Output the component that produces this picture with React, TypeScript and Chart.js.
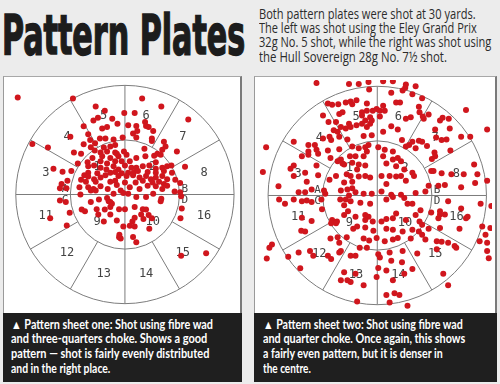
import React, { useEffect, useLayoutEffect, useRef, useState } from 'react';
import { Chart, registerables } from 'chart.js';

Chart.register(...registerables);

// ---- plate geometry (plate units; outer circle radius = 336) ----
const OUTER_R = 336;
const INNER_R = 168;
// ring sectors, counter-clockwise from east, 30° each
const RING_LABELS = ['8', '7', '6', '5', '4', '3', '11', '12', '13', '14', '15', '16'];
// inner quadrants counter-clockwise from east
const INNER_LABELS = ['2', '1', '9', '10'];
// edge marks next to the inner circle on the horizontal line
const EDGE_LABELS = ['B', 'A', 'C', 'D'];

// ---- shot positions read from the two plates ----
const LEFT_SHOTS: [number, number][] = [
  [-330, 297], [-160, 294], [53, 294],
  [-90, 270], [112, 270], [-62, 257], [-2, 250], [30, 250],
  [-97, 227], [-83, 235], [-39, 232], [195, 230], [62, 222], [-23, 217],
  [-127, 209], [-70, 202], [-55, 207], [10, 212], [35, 210], [65, 210], [73, 207], [87, 195], [38, 195], [25, 187], [-113, 185],
  [-168, 177], [-77, 172], [-60, 172], [-35, 169], [-7, 175], [35, 175], [83, 172], [-107, 167], [120, 162], [83, 164], [-92, 157], [-65, 144],
  [-127, 154], [-285, 155], [-237, 144], [-105, 145], [-45, 147], [-30, 152], [125, 147], [-157, 129], [-135, 125], [-93, 135], [-75, 129], [-55, 132], [-30, 129], [-25, 125], [-3, 132], [60, 140], [115, 137], [100, 125], [160, 132],
  [-100, 112], [-70, 117], [-45, 112], [-20, 117], [5, 122], [35, 112], [63, 117], [90, 119], [110, 122], [-75, 102], [-115, 99], [-55, 95], [-30, 102], [-10, 102], [15, 102], [95, 99], [-145, 95],
  [-220, 79], [-165, 72], [-192, 70], [-113, 87], [-95, 89], [-75, 82], [-57, 77], [-35, 87], [-20, 77], [0, 89], [20, 82], [35, 82], [55, 87], [75, 89], [95, 79], [115, 82], [130, 87], [143, 89], [185, 85], [-113, 67], [-85, 65], [-45, 67], [-30, 69], [-10, 65], [10, 67], [27, 67], [40, 72], [70, 69], [95, 67], [120, 72], [145, 67],
  [-177, 42], [-125, 59], [-113, 55], [-135, 45], [-95, 47], [-75, 52], [-60, 59], [-20, 57], [5, 57], [25, 59], [45, 52], [65, 57], [80, 47], [95, 52], [115, 57], [130, 47], [155, 45], [170, 35], [-195, 32], [-120, 39], [-90, 39], [-45, 39], [-30, 42], [0, 37], [33, 37], [55, 42], [85, 37], [105, 39], [120, 32], [130, 27],
  [-200, 19], [-180, 19], [-140, 22], [-113, 22], [-97, 17], [-75, 25], [-53, 17], [-25, 29], [-13, 12], [15, 22], [45, 17], [70, 27], [95, 25], [115, 17], [153, 9], [170, 7], [-105, 12], [-90, 12],
  [-200, -18], [-182, -23], [-137, 0], [-105, -23], [-80, -15], [-55, -11], [-50, -21], [-35, 2], [-5, 5], [10, 2], [35, -8], [65, -8], [87, 2], [112, -13], [110, -21], [173, -5],
  [-170, -56], [-133, -46], [-123, -51], [-87, -45], [-62, -46], [-45, -23], [-40, -28], [-45, -38], [-18, -45], [0, -45], [30, -38], [55, -45], [65, -46], [175, -43],
  [-230, -73], [-82, -61], [-45, -61], [30, -71], [50, -61], [57, -75], [73, -63], [83, -73], [23, -83], [-25, -80], [171, -73],
  [-179, -95], [15, -96], [30, -98], [75, -105], [-5, -98], [-65, -83],
  [-17, -123], [-13, -135], [-18, -131], [25, -130], [35, -146],
  [173, -188], [250, -180],
];

const RIGHT_SHOTS: [number, number][] = [
  [-187, 345], [-87, 342], [-57, 342], [-27, 348], [18, 350], [48, 350], [88, 340], [118, 335], [-25, 325],
  [43, 315], [78, 322], [86, 330], [138, 298], [108, 310], [-32, 282], [-152, 282], [-139, 278], [-120, 280], [-97, 285], [-82, 288], [-64, 292], [-77, 280], [58, 285], [70, 285], [18, 275], [-2, 265],
  [273, 262], [158, 248], [128, 272], [130, 255], [-167, 245], [-117, 250], [-107, 255], [-47, 255], [-32, 260], [-14, 260], [8, 260], [23, 260], [-47, 245], [-22, 240], [8, 242], [88, 235], [103, 240], [143, 235], [140, 242],
  [-150, 225], [-127, 225], [-87, 220], [-64, 215], [-47, 220], [-37, 230], [-32, 210], [-17, 230], [-22, 220], [43, 212], [63, 202], [201, 238], [193, 230], [220, 235], [338, 202], [178, 202], [223, 205], [-134, 200], [-97, 205], [-82, 210], [-112, 210],
  [-167, 175], [-147, 180], [-142, 170], [-122, 195], [-117, 180], [-92, 172], [-42, 182], [-17, 185], [18, 195], [76, 170], [128, 168], [108, 165], [138, 165], [153, 152], [181, 178], [198, 170], [213, 172], [258, 180], [286, 180], [-257, 165], [-212, 155],
  [-342, 148], [-192, 155], [-187, 140], [-152, 138], [-117, 142], [-77, 150], [-57, 145], [-37, 148], [-27, 155], [3, 148], [23, 140], [48, 135], [88, 150], [98, 155], [118, 145], [176, 132], [178, 120], [225, 138], [-212, 135], [-212, 125], [-232, 120], [-182, 128], [-144, 115], [-112, 110], [-107, 98], [-84, 120], [-67, 120], [-42, 120], [-32, 135],
  [168, 112], [-257, 92], [-267, 82], [-187, 92], [-222, 70], [-122, 105], [-102, 95], [-77, 100], [-57, 95], [-37, 92], [-62, 80], [18, 120], [28, 98], [48, 110], [63, 115], [73, 105], [58, 90], [83, 80], [108, 70], [113, 60], [166, 75], [173, 75], [198, 68], [228, 65], [298, 95], [308, 65], [-352, 72], [338, 45], [266, 65],
  [-304, 28], [-257, 60], [-217, 42], [-182, 62], [-147, 48], [-127, 60], [-94, 65], [-82, 60], [-57, 58], [-37, 60], [-22, 55], [13, 60], [38, 60], [28, 35], [58, 58], [73, 60], [88, 45], [158, 30], [188, 30], [208, 32], [258, 25], [301, 38], [-102, 40], [-77, 42],
  [-242, 10], [-222, 10], [-202, 18], [-164, 15], [-160, 5], [-112, 15], [-92, 18], [-77, 22], [-67, 10], [-87, 0], [-42, 5], [-17, 5], [13, 12], [43, 2], [73, 2], [83, -8], [118, 8], [148, 12],
  [-302, -12], [-284, -25], [-257, -12], [-232, -18], [-217, -15], [-202, -20], [-172, -12], [-170, -42], [-114, -12], [-97, -12], [-82, -18], [-102, -30], [-52, -22], [-22, -25], [28, -12], [48, -5], [93, -25], [108, -25], [133, -45], [166, -52], [193, -48], [218, -18], [258, -40], [318, -25], [351, -32],
  [-232, -68], [-202, -78], [-139, -75], [-124, -80], [-102, -60], [-90, -48], [-67, -65], [-37, -60], [-27, -65], [-37, -75], [-14, -80], [13, -80], [28, -72], [48, -70], [58, -55], [88, -75], [118, -60], [130, -80], [138, -90], [188, -70], [193, -58], [208, -58], [273, -70], [278, -65],
  [-234, -108], [-222, -110], [-142, -85], [-127, -85], [-74, -102], [-62, -95], [-37, -98], [-12, -108], [28, -102], [48, -105], [78, -110], [108, -105], [128, -110], [138, -120], [158, -102], [193, -100], [253, -102], [323, -95], [333, -120], [348, -100], [315, -140],
  [-324, -150], [-332, -160], [-144, -132], [-122, -128], [-94, -128], [-42, -132], [-25, -138], [-2, -130], [23, -140], [48, -135], [63, -130], [103, -132], [148, -135], [183, -140], [198, -142], [218, -145], [238, -155], [243, -160], [338, -145], [-32, -160], [-54, -160], [-117, -145],
  [-274, -188], [-340, -193], [-242, -175], [-207, -170], [-197, -185], [-152, -185], [-142, -195], [-117, -175], [-112, -170], [-82, -185], [-67, -185], [3, -180], [8, -190], [38, -175], [78, -170], [123, -178], [183, -165], [338, -170], [343, -192],
  [-237, -223], [-102, -235], [-92, -260], [-82, -265], [-67, -240], [-42, -275], [-2, -250], [28, -230], [48, -260], [76, -205], [83, -240], [108, -225], [203, -240], [218, -275], [3, -222], [43, -200],
  [-62, -325], [28, -305], [38, -328], [53, -300], [68, -305], [93, -338], [-112, -260],
];

// ---- text ----
const TITLE = 'Pattern Plates';
const INTRO_LINES = [
  'Both pattern plates were shot at 30 yards.',
  'The left was shot using the Eley Grand Prix',
  '32g No. 5 shot, while the right was shot using',
  'the Hull Sovereign 28g No. 7\u00BD shot.',
];
const INTRO_WIDTHS = [217, 218, 232, 188];
const LEFT_CAPTION = [
  '\u25B2 Pattern sheet one: Shot using fibre wad',
  'and three-quarters choke. Shows a good',
  'pattern \u2014 shot is fairly evenly distributed',
  'and in the right place.',
];
const LEFT_CAPTION_WIDTHS = [202, 196, 198, 99];
const RIGHT_CAPTION = [
  '\u25B2 Pattern sheet two: Shot using fibre wad',
  'and quarter choke. Once again, this shows',
  'a fairly even pattern, but it is denser in',
  'the centre.',
];
const RIGHT_CAPTION_WIDTHS = [200, 202, 180, 48];

const DOT_COLOR = '#d0161d';
const LINE_COLOR = '#7c7c7c';
const LABEL_COLOR = '#444444';

const plateOverlay = {
  id: 'plateOverlay',
  beforeDatasetsDraw(chart: any) {
    const { ctx } = chart;
    const xs = chart.scales.x;
    const ys = chart.scales.y;
    const cx = xs.getPixelForValue(0);
    const cy = ys.getPixelForValue(0);
    const ro = xs.getPixelForValue(OUTER_R) - cx;
    const ri = xs.getPixelForValue(INNER_R) - cx;
    const k = (xs.getPixelForValue(100) - cx) / 100;
    ctx.save();
    ctx.strokeStyle = LINE_COLOR;
    ctx.lineWidth = 1;
    ctx.beginPath();
    ctx.arc(cx, cy, ro, 0, Math.PI * 2);
    ctx.stroke();
    ctx.beginPath();
    ctx.arc(cx, cy, ri, 0, Math.PI * 2);
    ctx.stroke();
    for (let i = 0; i < 12; i++) {
      const a = (i * Math.PI) / 6;
      const r0 = i % 3 === 0 ? 0 : ri;
      ctx.beginPath();
      ctx.moveTo(cx + r0 * Math.cos(a), cy - r0 * Math.sin(a));
      ctx.lineTo(cx + ro * Math.cos(a), cy - ro * Math.sin(a));
      ctx.stroke();
    }
    ctx.fillStyle = LABEL_COLOR;
    ctx.textAlign = 'center';
    ctx.textBaseline = 'middle';
    ctx.font = '12px "DejaVu Sans Mono", monospace';
    const rr = (INNER_R + OUTER_R) / 2 * k;
    RING_LABELS.forEach((t, i) => {
      const a = ((i + 0.5) * Math.PI) / 6;
      ctx.fillText(t, cx + rr * Math.cos(a), cy - rr * Math.sin(a));
    });
    const rq = 0.72 * INNER_R * k;
    INNER_LABELS.forEach((t, i) => {
      const a = ((i + 0.5) * Math.PI) / 2;
      ctx.fillText(t, cx + rq * Math.cos(a), cy - rq * Math.sin(a));
    });
    ctx.font = '11px "DejaVu Sans Mono", monospace';
    const re = 1.1 * INNER_R * k;
    const edgeAngles = [5, 175, 185, 355];
    EDGE_LABELS.forEach((t, i) => {
      const a = (edgeAngles[i] * Math.PI) / 180;
      ctx.fillText(t, cx + re * Math.cos(a), cy - re * Math.sin(a));
    });
    ctx.restore();
  },
};

function Plate(props: {
  shots: [number, number][];
  xMin: number; xMax: number; yMin: number; yMax: number;
  width: number; height: number;
}) {
  const ref = useRef<HTMLCanvasElement>(null);
  useEffect(() => {
    if (!ref.current) return;
    const chart = new Chart(ref.current, {
      type: 'scatter',
      data: {
        datasets: [
          {
            data: props.shots.map(([x, y]) => ({ x, y })),
            backgroundColor: DOT_COLOR,
            borderWidth: 0,
            pointRadius: 3,
            pointHoverRadius: 3,
          },
        ],
      },
      options: {
        animation: false,
        responsive: false,
        events: [],
        layout: { padding: 0 },
        plugins: { legend: { display: false }, tooltip: { enabled: false } },
        scales: {
          x: { type: 'linear', min: props.xMin, max: props.xMax, display: false },
          y: { type: 'linear', min: props.yMin, max: props.yMax, display: false },
        },
      },
      plugins: [plateOverlay],
    } as any);
    return () => chart.destroy();
  }, []);
  return (
    <canvas
      ref={ref}
      width={props.width}
      height={props.height}
      style={{ display: 'block', width: props.width, height: props.height }}
    />
  );
}

function FitLine(props: { text: string; width: number; style: React.CSSProperties; top: number; left: number }) {
  const ref = useRef<HTMLSpanElement>(null);
  const [scale, setScale] = useState(1);
  useLayoutEffect(() => {
    const measure = () => {
      const el = ref.current;
      if (!el) return;
      const w = el.offsetWidth;
      if (w > 0) setScale(props.width / w);
    };
    measure();
    if ((document as any).fonts && (document as any).fonts.ready) {
      (document as any).fonts.ready.then(measure);
    }
  }, []);
  return (
    <span
      ref={ref}
      style={{
        position: 'absolute',
        left: props.left,
        top: props.top,
        whiteSpace: 'nowrap',
        display: 'inline-block',
        transformOrigin: '0 0',
        transform: `scaleX(${scale})`,
        ...props.style,
      }}
    >
      {props.text}
    </span>
  );
}

export default function App() {
  const introStyle: React.CSSProperties = {
    fontFamily: '"Open Sans", "Noto Sans", sans-serif',
    fontSize: 14,
    lineHeight: '14px',
    color: '#2b2b2b',
  };
  const capStyle: React.CSSProperties = {
    fontFamily: 'Lato, "Open Sans", sans-serif',
    fontWeight: 700,
    fontSize: 12.5,
    lineHeight: '14px',
    color: '#ffffff',
  };
  const introBaselines = [19.3, 33.5, 47.7, 61.8];
  const capBaselines = [329.3, 344, 358.7, 373.4];
  return (
    <div
      style={{
        position: 'fixed',
        left: 0,
        top: 0,
        width: 500,
        height: 384,
        background: '#ececec',
        overflow: 'hidden',
      }}
    >
      <FitLine
        text={TITLE}
        width={243}
        left={2}
        top={6.5}
        style={{
          fontFamily: '"Liberation Sans Narrow", "DejaVu Sans Condensed", "Liberation Sans", sans-serif',
          fontWeight: 700,
          fontSize: 56,
          lineHeight: '56px',
          color: '#1c1c1c',
          WebkitTextStroke: '1.5px #1c1c1c',
        }}
      />
      {INTRO_LINES.map((t, i) => (
        <FitLine key={'i' + i} text={t} width={INTRO_WIDTHS[i]} left={259} top={introBaselines[i] - 12.3} style={introStyle} />
      ))}

      {/* left plate */}
      <div
        style={{
          position: 'absolute', left: 3, top: 76, width: 239, height: 237, boxSizing: 'border-box',
          background: '#fff', borderLeft: '1px solid #9a9a9a', borderTop: '1px solid #a8a8a8', borderRight: '2px solid #7a7a7a',
        }}
      >
        <Plate shots={LEFT_SHOTS} xMin={-363} xMax={345} yMin={-354} yMax={351} width={236} height={236} />
      </div>
      <div style={{ position: 'absolute', left: 3, top: 313, width: 239, height: 69, background: '#1f1f1f' }} />
      {LEFT_CAPTION.map((t, i) => (
        <FitLine key={'l' + i} text={t} width={LEFT_CAPTION_WIDTHS[i]} left={11} top={capBaselines[i] - 11.8} style={capStyle} />
      ))}

      {/* right plate */}
      <div
        style={{
          position: 'absolute', left: 254, top: 76, width: 243, height: 237, boxSizing: 'border-box',
          background: '#fff', borderLeft: '1px solid #9a9a9a', borderTop: '1px solid #a8a8a8', borderRight: '2px solid #7a7a7a',
        }}
      >
        <Plate shots={RIGHT_SHOTS} xMin={-367} xMax={353} yMin={-351} yMax={354} width={240} height={236} />
      </div>
      <div style={{ position: 'absolute', left: 254, top: 313, width: 243, height: 69, background: '#1f1f1f' }} />
      {RIGHT_CAPTION.map((t, i) => (
        <FitLine key={'r' + i} text={t} width={RIGHT_CAPTION_WIDTHS[i]} left={263} top={capBaselines[i] - 11.8} style={capStyle} />
      ))}
    </div>
  );
}
